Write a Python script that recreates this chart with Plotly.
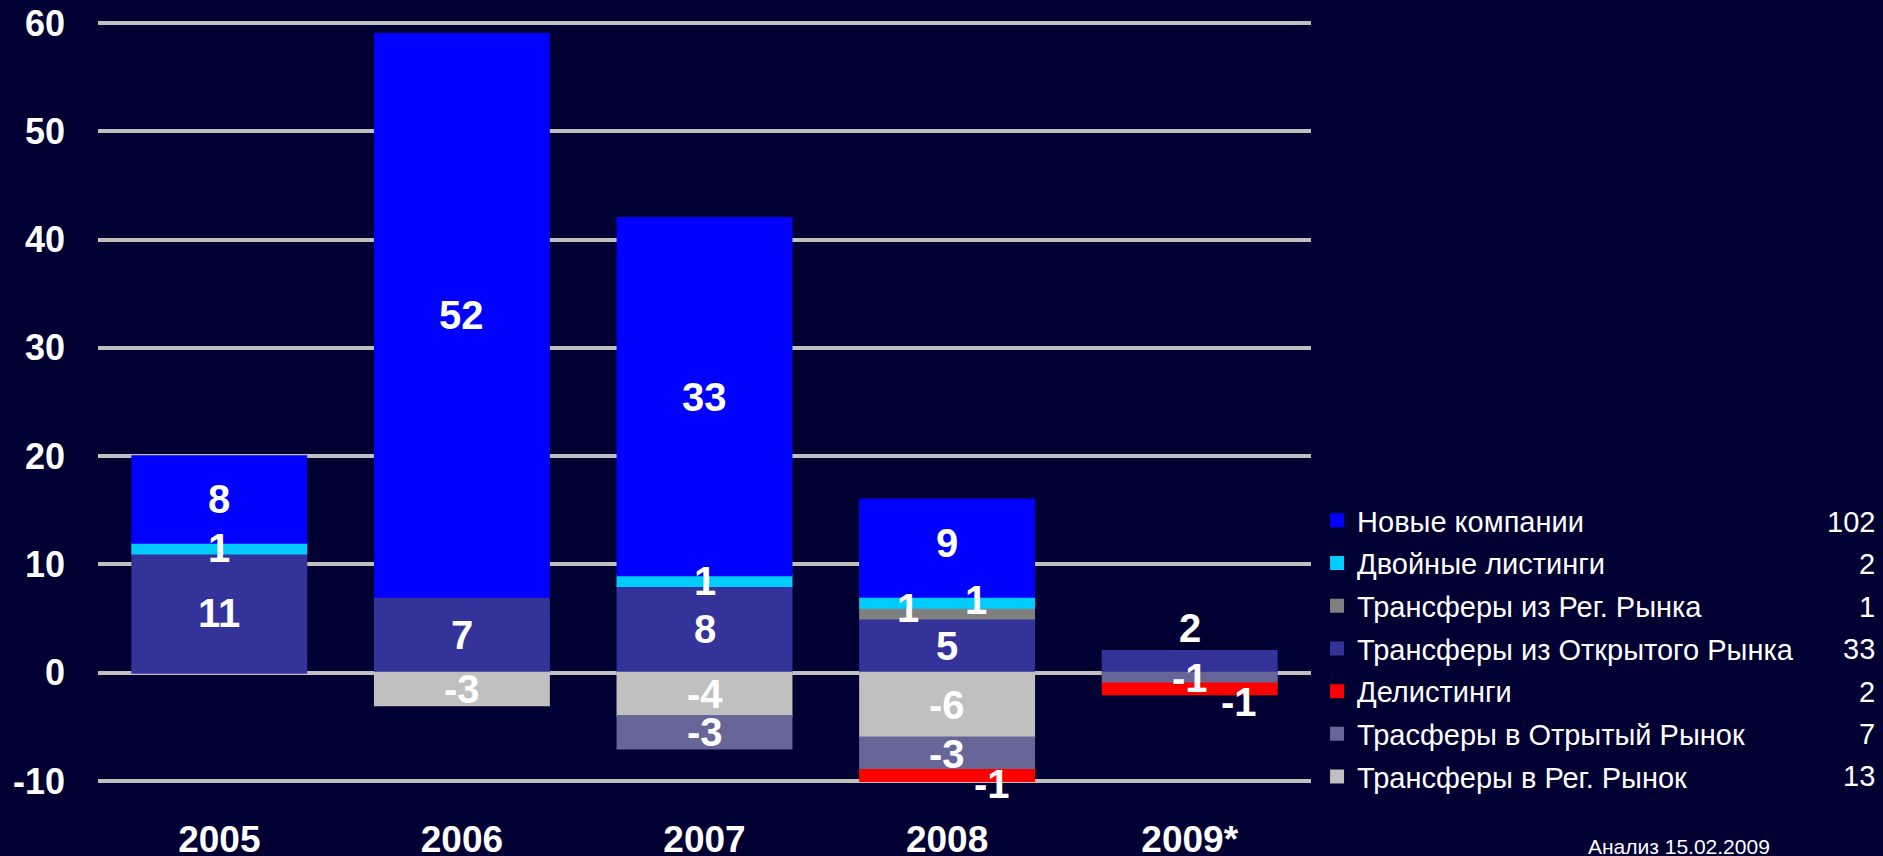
import plotly.graph_objects as go

# ---- data -------------------------------------------------------------
years = ["2005", "2006", "2007", "2008", "2009*"]

novye = [8, 52, 33, 9, 0]          # Новые компании
dvoinye = [1, 0, 1, 1, 0]          # Двойные листинги
iz_reg = [0, 0, 0, 1, 0]           # Трансферы из Рег. Рынка
iz_otkr = [11, 7, 8, 5, 2]         # Трансферы из Открытого Рынка
delist = [0, 0, 0, -1, -1]         # Делистинги
v_otkr = [0, 0, -3, -3, -1]        # Трасферы в Отрытый Рынок
v_reg = [0, -3, -4, -6, 0]         # Трансферы в Рег. Рынок

legend_names = [
    "Новые компании",
    "Двойные листинги",
    "Трансферы из Рег. Рынка",
    "Трансферы из Открытого Рынка",
    "Делистинги",
    "Трасферы в Отрытый Рынок",
    "Трансферы в Рег. Рынок",
]
legend_totals = ["102", "2", "1", "33", "2", "7", "13"]
y_ticks = [-10, 0, 10, 20, 30, 40, 50, 60]
note_text = "Анализ 15.02.2009"

# ---- styling ----------------------------------------------------------
BG = "#000033"
colors = {
    "Новые компании": "#0000FF",
    "Двойные листинги": "#00CCFF",
    "Трансферы из Рег. Рынка": "#808080",
    "Трансферы из Открытого Рынка": "#333399",
    "Делистинги": "#FF0000",
    "Трасферы в Отрытый Рынок": "#666699",
    "Трансферы в Рег. Рынок": "#C0C0C0",
}
# stacking order (relative mode): positives from 0 upward, negatives downward
series = [
    ("Трансферы из Открытого Рынка", iz_otkr),
    ("Трансферы из Рег. Рынка", iz_reg),
    ("Двойные листинги", dvoinye),
    ("Новые компании", novye),
    ("Трансферы в Рег. Рынок", v_reg),
    ("Трасферы в Отрытый Рынок", v_otkr),
    ("Делистинги", delist),
]
# manual label nudges (pixels) for crowded segments
label_shift = {
    ("Двойные листинги", "2008"): (29, 2),
    ("Трансферы из Рег. Рынка", "2008"): (-39, 5),
    ("Делистинги", "2008"): (45, -8),
    ("Новые компании", "2008"): (0, 5),
    ("Трансферы из Открытого Рынка", "2009*"): (0, 34),
    ("Делистинги", "2009*"): (49, -13),
}

fig = go.Figure()
for name, vals in series:
    fig.add_trace(go.Bar(
        x=years, y=[v if v != 0 else None for v in vals], name=name,
        marker=dict(color=colors[name], line=dict(width=2, color=colors[name])),
        legendrank=legend_names.index(name) + 1,
        legendgroup=name,
        hovertemplate="%{x}: %{y}<extra>" + name + "</extra>",
    ))

# value labels at segment centres (computed from the data)
label_font = dict(family="Liberation Sans, Arial", size=40, color="white", weight="bold")
pos_base = [0] * len(years)
neg_base = [0] * len(years)
annotations = []
for name, vals in series:
    for i, v in enumerate(vals):
        if v == 0:
            continue
        if v > 0:
            yc = pos_base[i] + v / 2
            pos_base[i] += v
        else:
            yc = neg_base[i] + v / 2
            neg_base[i] += v
        dx, dy = label_shift.get((name, years[i]), (0, 0))
        annotations.append(dict(
            x=i, y=yc, xref="x", yref="y", text=str(v),   # x = category index
            showarrow=False, font=label_font, xshift=dx, yshift=dy,
            xanchor="center", yanchor="middle",
        ))

# plot area: top 22, bottom 782 (px); y range padded so edge gridlines show
PT, PB = 22, 74
PH = 856 - PT - PB

# legend totals, right aligned next to each legend row
row0 = (856 - PB - 522) / PH
row_step = 42.4 / PH
for k, t in enumerate(legend_totals):
    annotations.append(dict(
        x=(1877 - 98) / 1213, y=row0 - k * row_step, xref="paper", yref="paper",
        text=t, showarrow=False, xanchor="right", yanchor="middle",
        font=dict(family="Liberation Sans, Arial", size=29, color="white"),
    ))

annotations.append(dict(
    x=(1586 - 98) / 1213, y=(856 - PB - 846) / PH, xref="paper", yref="paper",
    text=note_text, showarrow=False, xanchor="left", yanchor="middle",
    font=dict(family="Liberation Sans, Arial", size=21, color="white"),
))

fig.update_layout(
    width=1883, height=856,
    barmode="relative", bargap=0.283,
    paper_bgcolor=BG, plot_bgcolor=BG,
    margin=dict(l=98, r=572, t=PT, b=PB, autoexpand=False),
    annotations=annotations,
    showlegend=True,
    legend=dict(
        x=1.005, y=row0 + 0.0355, xanchor="left", yanchor="top",
        traceorder="grouped", tracegroupgap=2,
        font=dict(family="Liberation Sans, Arial", size=29, color="white"),
        bgcolor="rgba(0,0,0,0)",
    ),
    xaxis=dict(
        type="category", categoryorder="array", categoryarray=years,
        range=[-0.5, len(years) - 0.5], automargin=False,
        showgrid=False, zeroline=False, showline=False,
        tickfont=dict(family="Liberation Sans, Arial", size=37, color="white", weight="bold"),
        ticks="", ticklabelstandoff=32,
    ),
    yaxis=dict(
        automargin=False,
        range=[-10.1, 60.1], tickvals=y_ticks, ticktext=[str(v) for v in y_ticks],
        showgrid=True, gridcolor="#C0C0C0", gridwidth=4,
        zeroline=True, zerolinecolor="#C0C0C0", zerolinewidth=4,
        showline=False, ticks="", ticklabelstandoff=32,
        tickfont=dict(family="Liberation Sans, Arial", size=36, color="white", weight="bold"),
    ),
)

fig.write_html(
    "out.html",
    config={"displayModeBar": False},
    post_script="document.body.style.margin='0';document.body.style.background='" + BG + "';",
)
